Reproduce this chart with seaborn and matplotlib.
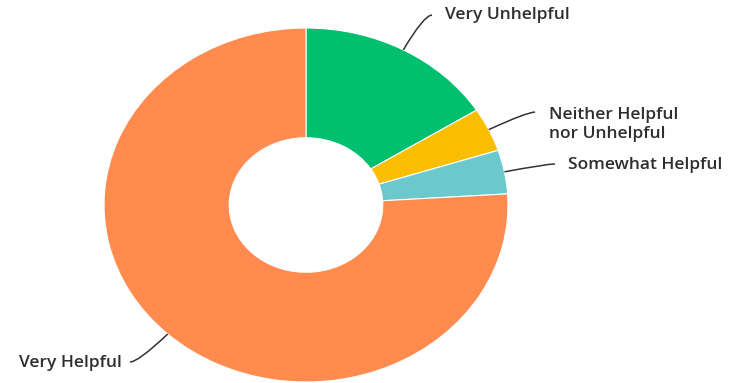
import numpy as np
import matplotlib
matplotlib.use("Agg")
import matplotlib.pyplot as plt
from matplotlib.path import Path
from matplotlib.patches import PathPatch
import seaborn as sns

# Survey responses (percent of respondents), clockwise from 12 o'clock
categories = ["Very Unhelpful", "Neither Helpful\nnor Unhelpful", "Somewhat Helpful", "Very Helpful"]
shares = [16, 4, 4, 76]
colors = ["#00BF6F", "#F9BE00", "#6BC8CD", "#FF8B4F"]

sns.set_theme(style="white")
plt.rcParams["font.family"] = ["Open Sans", "DejaVu Sans"]

fig = plt.figure(figsize=(7.34, 3.83), dpi=100)
W, H = 734, 383
# donut box in pixels: left 104, right 508, top 28, bottom 382
ax = fig.add_axes([104 / W, 1 - 382 / H, 404 / W, 354 / H])

wedges, _ = ax.pie(
    shares, colors=colors, startangle=90, counterclock=False, radius=1.0,
    wedgeprops=dict(width=0.62, edgecolor="white", linewidth=0.8),
)
# let the donut fill its box (slightly wider than tall)
ax.set_aspect("auto")
ax.set_xlim(-1, 1)
ax.set_ylim(-1, 1)
ax.axis("off")

# label anchors: (leader end x, leader end y, text x, text y, alignment)
anchors = [
    (0.624, 1.073, 0.688, 1.073, "left"),
    (1.134, 0.525, 1.203, 0.455, "left"),
    (1.233, 0.232, 1.297, 0.226, "left"),
    (-0.871, -0.887, -0.911, -0.893, "right"),
]

for w, label, (ex, ey, tx, ty, ha) in zip(wedges, categories, anchors):
    mid = np.deg2rad((w.theta1 + w.theta2) / 2)
    sx, sy = np.cos(mid) * 1.0, np.sin(mid) * 1.0
    cx = ex - 0.04 if ha == "left" else ex + 0.04
    path = Path([(sx, sy), (cx, ey), (ex, ey)], [Path.MOVETO, Path.CURVE3, Path.CURVE3])
    ax.add_patch(PathPatch(path, facecolor="none", edgecolor="#333333", lw=1.1, clip_on=False))
    ax.text(tx, ty, label, ha=ha, va="center", fontsize=12.5, fontweight="semibold",
            color="#2e2e2e", linespacing=1.3, clip_on=False)

fig.savefig("out.png", dpi=100, facecolor="white")
